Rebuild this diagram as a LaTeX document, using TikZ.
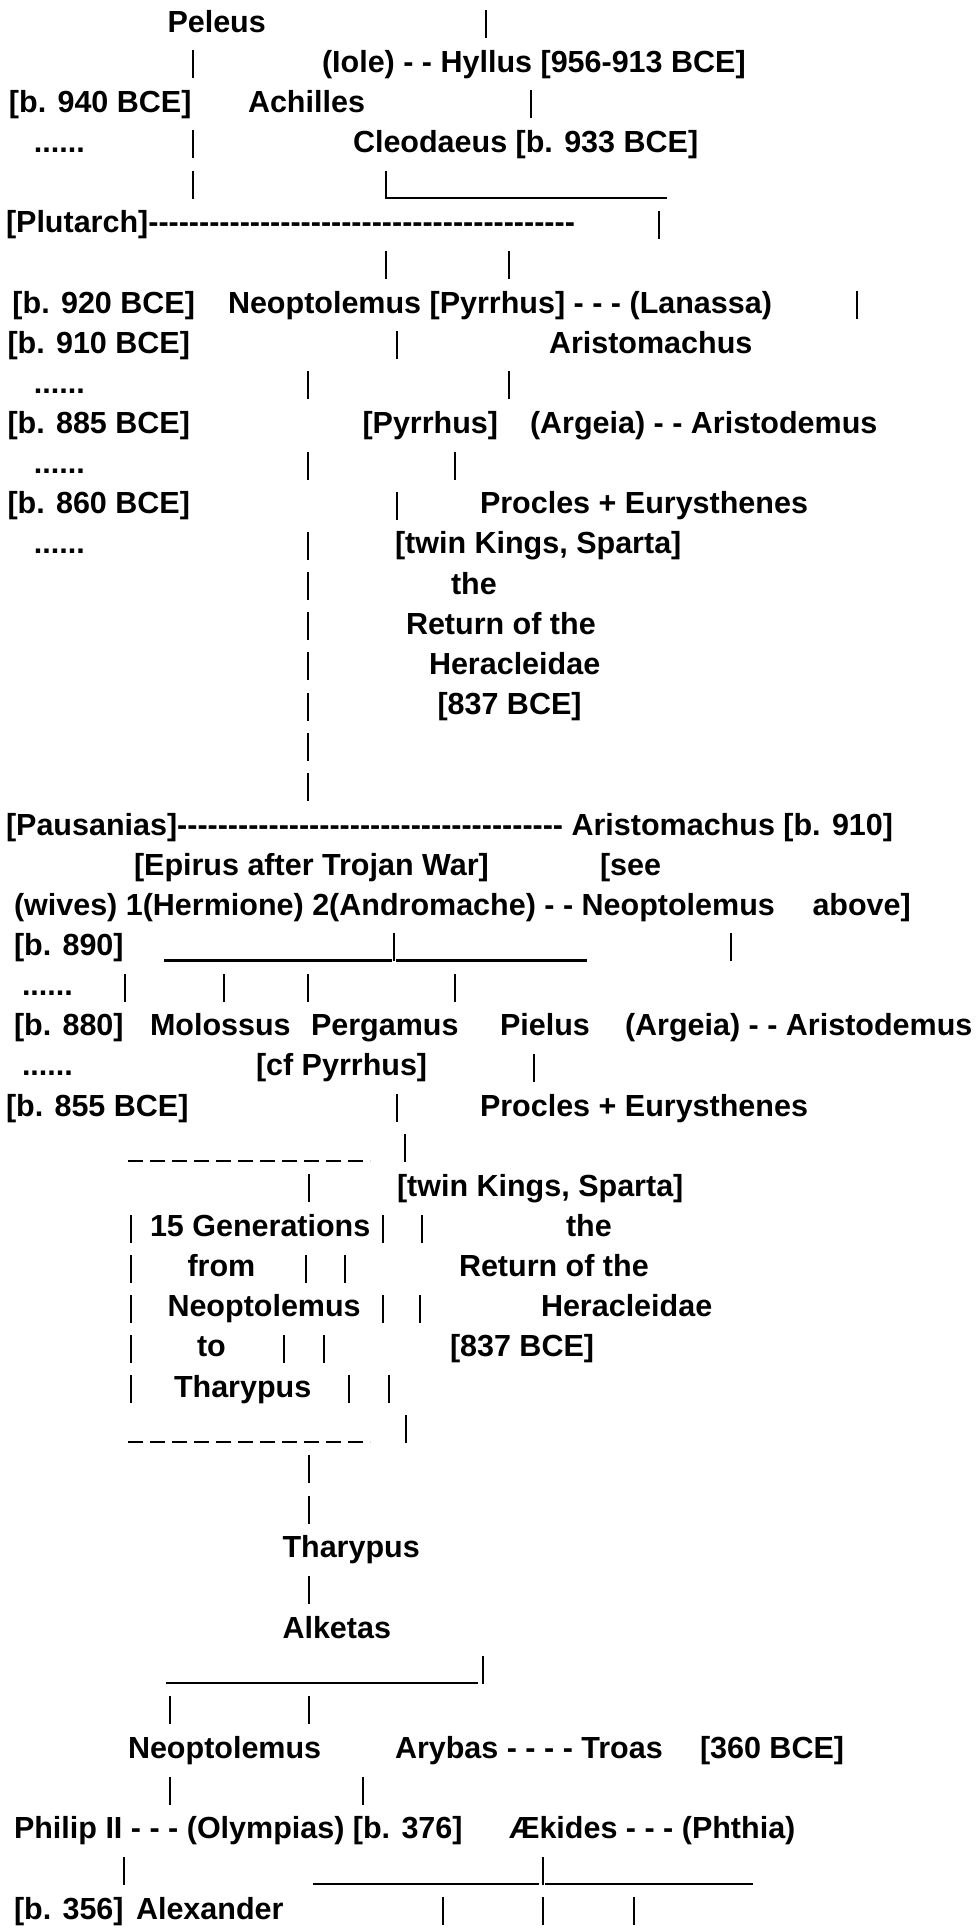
\documentclass[tikz,border=0pt]{standalone}
\usepackage{fontspec}
\newfontfamily\arb{Liberation Sans}
\newcommand\hyph[1]{\foreach\i in {1,...,#1}{-}}
\newcommand\ly[1]{32+(#1-1)*40.15}
\tikzset{
  tx/.style={anchor=base west,inner sep=0pt,outer sep=0pt,font={\arb\bfseries\fontsize{30.5}{36}\selectfont}},
  bar/.style={line width=2pt},
  us/.style={line width=2.2pt},
  dsh/.style={line width=2.4pt,dash pattern=on 14.5pt off 7.5pt}
}
% text node: name, x, line, text
\newcommand\tx[4]{\node[tx] (#1) at (#2,{\ly{#3}}) {#4};}
% vertical bar: x, line
\newcommand\br[2]{\draw[bar] (#1,{\ly{#2}+6}) -- ++(0,-28);}
% underscore: x1, x2, line
\newcommand\us[3]{\draw[us] (#1,{\ly{#3}+5}) -- (#2,{\ly{#3}+5});}
\begin{document}
\begin{tikzpicture}[x=1pt,y=-1pt]
\useasboundingbox (0,0) rectangle (975,1928);
\fill[white] (0,0) rectangle (975,1928);
% line 1-4
\tx{peleus}{167.5}{1}{Peleus}
\br{486}{1}
\br{192.5}{2}
\tx{hyllus}{322}{2}{(Iole) - - Hyllus [956-913 BCE]}
\tx{d940}{9}{3}{[b. 940 BCE]}
\tx{achilles}{248}{3}{Achilles}
\br{531}{3}
\tx{dots1}{34}{4}{......}
\br{192.5}{4}
\tx{cleod}{353}{4}{Cleodaeus [b. 933 BCE]}
% line 5-8
\br{192.5}{5}
\br{386}{5}
\us{386}{667}{5}
\tx{plutarch}{6}{6}{[Plutarch]\hyph{42}}
\br{659}{6}
\br{386}{7}
\br{509}{7}
\tx{d920}{12.5}{8}{[b. 920 BCE]}
\tx{neop1}{228}{8}{Neoptolemus [Pyrrhus] - - - (Lanassa)}
\br{857}{8}
% line 9-20
\tx{d910}{7.5}{9}{[b. 910 BCE]}
\br{397}{9}
\tx{aristom1}{549}{9}{Aristomachus}
\tx{dots2}{34}{10}{......}
\br{308}{10}
\br{509}{10}
\tx{d885}{7.5}{11}{[b. 885 BCE]}
\tx{pyrrhus}{362.5}{11}{[Pyrrhus]}
\tx{aristod1}{530}{11}{(Argeia) - - Aristodemus}
\tx{dots3}{34}{12}{......}
\br{308}{12}
\br{455}{12}
\tx{d860}{7.5}{13}{[b. 860 BCE]}
\br{397}{13}
\tx{procles1}{480}{13}{Procles + Eurysthenes}
\tx{dots4}{34}{14}{......}
\br{308}{14}
\tx{twin1}{395}{14}{[twin Kings, Sparta]}
\br{308}{15}
\tx{the1}{451}{15}{the}
\br{308}{16}
\tx{ret1}{406}{16}{Return of the}
\br{308}{17}
\tx{her1}{429}{17}{Heracleidae}
\br{308}{18}
\tx{bce1}{437.5}{18}{[837 BCE]}
\br{308}{19}
\br{308}{20}
% line 21-28
\tx{pausanias}{6}{21}{[Pausanias]\hyph{38} Aristomachus [b. 910]}
\tx{epirus}{134}{22}{[Epirus after Trojan War]}
\tx{see}{600}{22}{[see}
\tx{wives}{14}{23}{(wives) 1(Hermione) 2(Andromache) - - Neoptolemus}
\tx{above}{812.5}{23}{above]}
\tx{d890}{14}{24}{[b. 890]}
\us{164}{392}{24}
\br{394}{24}
\us{396}{587}{24}
\br{731}{24}
\tx{dots5}{22}{25}{......}
\br{125}{25}
\br{224}{25}
\br{308}{25}
\br{455}{25}
\tx{d880}{14}{26}{[b. 880]}
\tx{molossus}{150}{26}{Molossus}
\tx{pergamus}{311}{26}{Pergamus}
\tx{pielus}{500}{26}{Pielus}
\tx{aristod2}{625}{26}{(Argeia) - - Aristodemus}
\tx{dots6}{22}{27}{......}
\tx{cfpyr}{256}{27}{[cf Pyrrhus]}
\br{534}{27}
\tx{d855}{6}{28}{[b. 855 BCE]}
\br{397}{28}
\tx{procles2}{480}{28}{Procles + Eurysthenes}
% line 29-36 box
\draw[dsh] (128,{\ly{29}+5}) -- (370,{\ly{29}+5});
\br{405}{29}
\br{309}{30}
\tx{twin2}{397}{30}{[twin Kings, Sparta]}
\br{131}{31}
\tx{gen}{150}{31}{15 Generations}
\br{382.5}{31}
\br{422}{31}
\tx{the2}{566}{31}{the}
\br{131}{32}
\tx{from}{187.5}{32}{from}
\br{306}{32}
\br{345}{32}
\tx{ret2}{459}{32}{Return of the}
\br{131}{33}
\tx{neop2}{167.5}{33}{Neoptolemus}
\br{382.5}{33}
\br{420}{33}
\tx{her2}{541}{33}{Heracleidae}
\br{131}{34}
\tx{to}{197}{34}{to}
\br{284}{34}
\br{324}{34}
\tx{bce2}{450}{34}{[837 BCE]}
\br{131}{35}
\tx{thar1}{174}{35}{Tharypus}
\br{349}{35}
\br{389}{35}
\draw[dsh] (128,{\ly{36}+5}) -- (370,{\ly{36}+5});
\br{406}{36}
% line 37-48
\br{309}{37}
\br{309}{38}
\tx{thar2}{282.5}{39}{Tharypus}
\br{309}{40}
\tx{alketas}{282.5}{41}{Alketas}
\us{166}{478}{42}
\br{482.5}{42}
\br{170}{43}
\br{309}{43}
\tx{neop3}{128}{44}{Neoptolemus}
\tx{arybas}{395}{44}{Arybas - - - - Troas}
\tx{bce360}{700}{44}{[360 BCE]}
\br{170}{45}
\br{362.5}{45}
\tx{philip}{14}{46}{Philip II - - - (Olympias) [b. 376]}
\tx{aekides}{509}{46}{Ækides - - - (Phthia)}
\br{124}{47}
\us{312.5}{539}{47}
\br{542.5}{47}
\us{545}{753}{47}
\tx{d356}{14}{48}{[b. 356]}
\tx{alexander}{136}{48}{Alexander}
\br{442.5}{48}
\br{542.5}{48}
\br{634}{48}
\end{tikzpicture}
\end{document}
